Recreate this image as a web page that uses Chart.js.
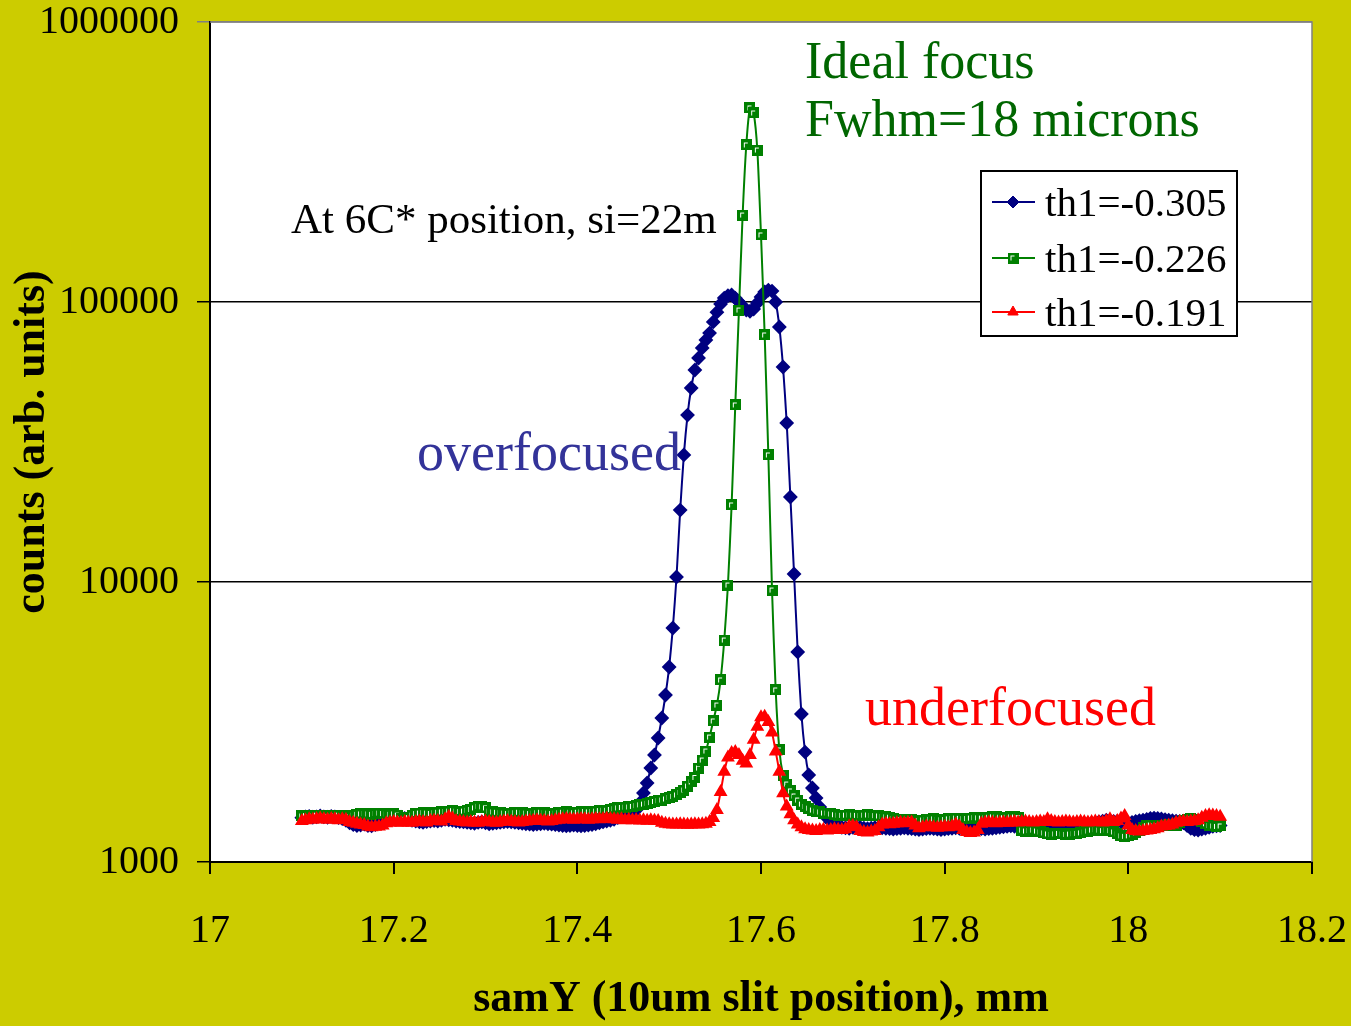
<!DOCTYPE html>
<html>
<head>
<meta charset="utf-8">
<script src="https://cdn.jsdelivr.net/npm/chart.js@4/dist/chart.umd.min.js"></script>
<style>
  html, body { margin: 0; padding: 0; background: #CCCC00; }
  #wrap { width: 1351px; height: 1026px; }
</style>
</head>
<body>
<div id="wrap"><canvas id="myChart"></canvas></div>
<script>
// scan positions: 17.1 .. 18.1 mm, 0.004 mm per step
const startX = 17.1;
const stepX = 0.004;

const xTicks = [17, 17.2, 17.4, 17.6, 17.8, 18, 18.2];
const yTicks = [1000, 10000, 100000, 1000000];

const seriesNames = ['th1=-0.305', 'th1=-0.226', 'th1=-0.191'];

// th1=-0.305 (overfocused)
const blueCounts = [
  1440,1450,1455,1445,1450,1460,1450,1445,1455,1450,1440,1430,1410,
  1380,1360,1350,1355,1365,1350,1345,1360,
  1380,1400,1420,1430,1440,1450,1445,1430,1420,1410,
  1400,1390,1385,1395,1400,1405,1400,1410,1420,1415,1410,1400,1395,1390,1385,
  1380,1375,1385,1390,1380,1370,1375,1380,1385,1390,1395,1390,1385,1380,1375,
  1370,1365,1360,1365,1370,1375,1370,1365,1360,1355,1350,1345,1350,1355,1350,1345,1350,1355,1360,1370,
  1380,1390,1400,1410,1420,1440,1460,1480,1500,
  1520,1533,1624,1764,1915,2166,2410,2772,3268,3948,
  4970,6850,10420,18070,28430,39460,49300,57150,63100,68550,
  73180,77460,84900,92000,98400,103300,105300,106000,103300,100000,
  96800,93600,92700,94400,99200,104200,108600,110300,109400,100000,
  81400,58600,36970,20120,10680,5623,3378,2470,2045,1838,
  1693,1572,1496,1436,1390,1355,
  1340,1330,1325,1320,1330,1335,1330,1320,1315,1320,1325,1330,1325,1320,1315,
  1310,1315,1320,1325,1320,1315,1310,1305,1310,1315,1320,1315,1310,1305,1310,1315,1320,1325,1320,1315,
  1320,1325,1330,1320,1315,1310,1315,1320,1325,1330,1335,1340,1345,1340,1335,1330,1325,1330,1335,1340,
  1345,1350,1355,1350,1345,1350,1355,1360,1355,1350,1355,1360,1365,1370,1375,1380,1390,1400,1410,1405,
  1395,1400,1390,1380,1375,1385,1395,1405,1410,1420,1430,1435,1430,1425,1415,
  1410,1405,1400,1395,1380,1350,1320,1305,1300,1310,1320,1330,1340,1345,1350
];

// th1=-0.226 (ideal focus)
const greenCounts = [
  1460,1465,1455,1460,1470,1465,1460,1455,1460,1465,1470,1460,1455,1450,
  1470,1480,1485,1490,1485,1480,1490,1495,1490,1485,1480,1485,1470,1430,
  1420,1440,1470,1490,1495,1500,1495,1490,1500,1505,1510,
  1515,1520,1525,1520,1515,1520,1530,1540,1560,1580,1575,1560,
  1520,1510,1505,1500,1495,1490,1495,1500,1505,1500,1495,1490,1495,1500,1505,1500,1495,1490,1495,1500,1505,1510,1505,1500,1505,1510,1515,1510,1515,
  1520,1525,1530,1530,1540,1550,1560,1565,1570,
  1572,1580,1590,1600,1610,1620,1630,1645,1655,
  1665,1679,1700,1715,1735,1771,1807,1867,1931,2004,
  2166,2313,2491,2795,3189,3636,4467,6205,9752,18840,
  42870,93600,204500,363800,493300,473200,349000,173500,76250,28430,
  9360,4115,2512,2045,1899,1793,1721,1665,1610,1578,
  1557,1533,1521,1509,1496,1496,1484,1475,
  1470,1468,1470,1472,1470,1468,1465,1470,1472,1468,1465,1460,1455,1450,1445,
  1430,1420,1415,1410,1412,1415,1410,1408,1412,1415,1420,1425,1420,1415,1418,
  1425,1430,1435,1432,1428,1430,1435,1440,1438,1435,1440,1445,1450,1448,1445,1440,1445,1450,1448,1440,
  1300,1290,1295,1300,1290,1280,1270,1260,1255,1260,1265,1260,1255,1258,1262,
  1265,1270,1280,1290,1300,1305,1300,1295,1300,1295,
  1280,1260,1240,1235,1240,1250,1270,1300,1330,1350,
  1355,1350,1345,1350,1355,1360,1355,1350,1380,1410,
  1420,1425,1420,1415,1400,1370,1350,1345,1340,1345
];

// th1=-0.191 (underfocused)
const redCounts = [
  1400,1410,1420,1415,1425,1430,1420,1415,1425,1420,1410,1420,1415,
  1390,1380,1370,1360,1355,1340,1330,1335,1340,1350,
  1375,1385,1390,1385,1380,1390,1385,1380,1390,1395,1390,1385,1400,
  1405,1400,1395,1420,1450,1430,1400,1395,1390,1385,
  1390,1385,1380,1390,1395,1390,1385,1380,1390,1395,1400,1395,1390,1385,1390,
  1395,1400,1405,1410,1405,1400,1395,1400,1410,1415,1420,1425,1420,1415,1420,1425,1420,1415,1420,1425,
  1420,1425,1430,1425,1420,1415,1420,1410,1415,1410,1412,1408,1410,1405,1410,
  1405,1400,1380,1370,1365,1360,1362,1365,1360,1358,1362,1365,1360,1365,1370,
  1390,1436,
  1533,1778,2100,2360,2450,2470,2410,2300,2250,2410,
  2730,3040,3290,3300,3160,2900,2480,2100,1760,1580,
  1480,1410,1360,1330,1310,1300,
  1295,1290,1300,1305,1295,1300,1310,1305,1300,1310,1340,1345,
  1330,1290,1280,1275,1285,1290,1330,1360,1370,1365,
  1370,1375,1380,1375,1380,1385,1350,1320,1330,1340,
  1335,1330,1325,1330,1335,1330,1340,1360,1340,1300,
  1280,1270,1275,1300,1370,1380,1385,1380,1375,1380,
  1385,1380,1385,1390,1385,1390,1395,1390,1385,1390,
  1395,1390,1420,1400,1390,1385,1390,1395,1390,1385,
  1390,1395,1390,1385,1390,1395,1390,1385,1400,1420,
  1390,1400,1430,1460,1350,1300,1290,1285,1290,1295,
  1300,1310,1320,1340,1345,1350,1360,1380,1390,1395,
  1390,1395,1400,1410,1440,1460,1470,1465,1460,1450
];

function toPoints(counts) {
  return counts.map((v, i) => ({ x: startX + i * stepX, y: v }));
}

// green square marker with the little white corner
function squareMarker() {
  const c = document.createElement('canvas');
  c.width = 11;
  c.height = 11;
  const g = c.getContext('2d');
  g.fillStyle = '#008000';
  g.fillRect(0, 0, 11, 11);
  g.fillStyle = '#ffffff';
  g.fillRect(3, 3, 4, 1);
  g.fillRect(3, 3, 1, 5);
  return c;
}
const greenMarker = squareMarker();

const serif = "'Liberation Serif', 'Times New Roman', serif";
Chart.defaults.font.family = serif;
Chart.defaults.color = '#000';

// page background, white plot area and its border
const backdrop = {
  id: 'backdrop',
  beforeDraw(chart) {
    const { ctx, chartArea: a } = chart;
    ctx.save();
    ctx.fillStyle = '#CCCC00';
    ctx.fillRect(0, 0, chart.width, chart.height);
    ctx.fillStyle = '#ffffff';
    ctx.fillRect(a.left, a.top, a.right - a.left, a.bottom - a.top);
    ctx.restore();
  },
  afterDatasetsDraw(chart) {
    const { ctx, chartArea: a } = chart;
    ctx.save();
    ctx.strokeStyle = '#808080';
    ctx.lineWidth = 1.5;
    ctx.beginPath();
    ctx.moveTo(a.left, a.top);
    ctx.lineTo(a.right, a.top);
    ctx.lineTo(a.right, a.bottom);
    ctx.stroke();
    ctx.restore();
  }
};

// text notes and the boxed legend
const notes = {
  id: 'notes',
  afterDraw(chart) {
    const ctx = chart.ctx;
    ctx.save();
    ctx.textAlign = 'left';
    ctx.textBaseline = 'alphabetic';

    ctx.fillStyle = '#006600';
    ctx.font = '52px ' + serif;
    ctx.fillText('Ideal focus', 805, 78);
    ctx.fillText('Fwhm=18 microns', 805, 136);

    ctx.fillStyle = '#000000';
    ctx.font = '43px ' + serif;
    ctx.fillText('At 6C* position, si=22m', 291, 233);

    ctx.fillStyle = '#333399';
    ctx.font = '54px ' + serif;
    ctx.fillText('overfocused', 417, 470);

    ctx.fillStyle = '#ff0000';
    ctx.fillText('underfocused', 865, 725);

    // legend
    ctx.fillStyle = '#ffffff';
    ctx.fillRect(981, 171, 256, 165);
    ctx.strokeStyle = '#000000';
    ctx.lineWidth = 2;
    ctx.strokeRect(981, 171, 256, 165);

    const rows = [202, 258, 312];
    ctx.font = '41px ' + serif;
    chart.data.datasets.forEach((ds, k) => {
      const y = rows[k];
      ctx.strokeStyle = ds.borderColor;
      ctx.fillStyle = ds.borderColor;
      ctx.lineWidth = 2;
      ctx.beginPath();
      ctx.moveTo(992, y);
      ctx.lineTo(1035, y);
      ctx.stroke();
      ctx.lineWidth = 1;
      Chart.helpers.drawPoint(ctx, {
        pointStyle: ds.pointStyle,
        radius: ds.pointRadius,
        rotation: 0,
        borderWidth: 1
      }, 1013, y);
      ctx.fillStyle = '#000000';
      ctx.fillText(ds.label, 1045, y + 14);
    });
    ctx.restore();
  }
};

const ctx = document.getElementById('myChart');

new Chart(ctx, {
  type: 'line',
  data: {
    datasets: [
      {
        label: seriesNames[0],
        data: toPoints(blueCounts),
        borderColor: '#000080',
        backgroundColor: '#000080',
        pointBackgroundColor: '#000080',
        pointBorderColor: '#000080',
        pointStyle: 'rectRot',
        pointRadius: 6,
        borderWidth: 2,
        tension: 0.2,
        order: 3
      },
      {
        label: seriesNames[1],
        data: toPoints(greenCounts),
        borderColor: '#008000',
        backgroundColor: '#008000',
        pointStyle: greenMarker,
        pointRadius: 5,
        borderWidth: 2,
        tension: 0.2,
        order: 2
      },
      {
        label: seriesNames[2],
        data: toPoints(redCounts),
        borderColor: '#ff0000',
        backgroundColor: '#ff0000',
        pointBackgroundColor: '#ff0000',
        pointBorderColor: '#ff0000',
        pointStyle: 'triangle',
        pointRadius: 6,
        borderWidth: 2,
        tension: 0.2,
        order: 1
      }
    ]
  },
  options: {
    responsive: true,
    maintainAspectRatio: false,
    animation: false,
    layout: { padding: { top: 22, right: 39, left: 0, bottom: 0 } },
    plugins: {
      legend: { display: false },
      tooltip: { enabled: false }
    },
    scales: {
      x: {
        type: 'linear',
        min: 17,
        max: 18.2,
        afterBuildTicks: scale => { scale.ticks = xTicks.map(v => ({ value: v })); },
        afterFit: scale => {
          scale.height = 164;
          scale.paddingLeft = 0;
          scale.paddingRight = 0;
        },
        ticks: {
          font: { size: 40 },
          color: '#000',
          padding: 33,
          maxRotation: 0,
          callback: v => String(Math.round(v * 10) / 10)
        },
        grid: {
          drawOnChartArea: false,
          drawTicks: true,
          tickLength: 12,
          color: '#000',
          lineWidth: 2
        },
        border: { color: '#000', width: 2 },
        title: {
          display: true,
          text: 'samY (10um slit position), mm',
          font: { size: 44, weight: 'bold' },
          color: '#000',
          padding: { top: 0, bottom: 0 }
        }
      },
      y: {
        type: 'logarithmic',
        min: 1000,
        max: 1000000,
        afterBuildTicks: scale => { scale.ticks = yTicks.map(v => ({ value: v })); },
        afterFit: scale => {
          scale.width = 210;
          scale.paddingTop = 0;
          scale.paddingBottom = 0;
        },
        ticks: {
          font: { size: 40 },
          color: '#000',
          padding: 18,
          callback: v => String(v)
        },
        grid: {
          color: c => (c.tick && c.tick.value === 1000000) ? '#808080' : '#000',
          lineWidth: 1.5,
          tickLength: 13
        },
        border: { color: '#000', width: 2 },
        title: {
          display: true,
          text: 'counts (arb. units)',
          font: { size: 44, weight: 'bold' },
          color: '#000',
          padding: { top: 6, bottom: 0 }
        }
      }
    }
  },
  plugins: [backdrop, notes]
});
</script>
</body>
</html>
